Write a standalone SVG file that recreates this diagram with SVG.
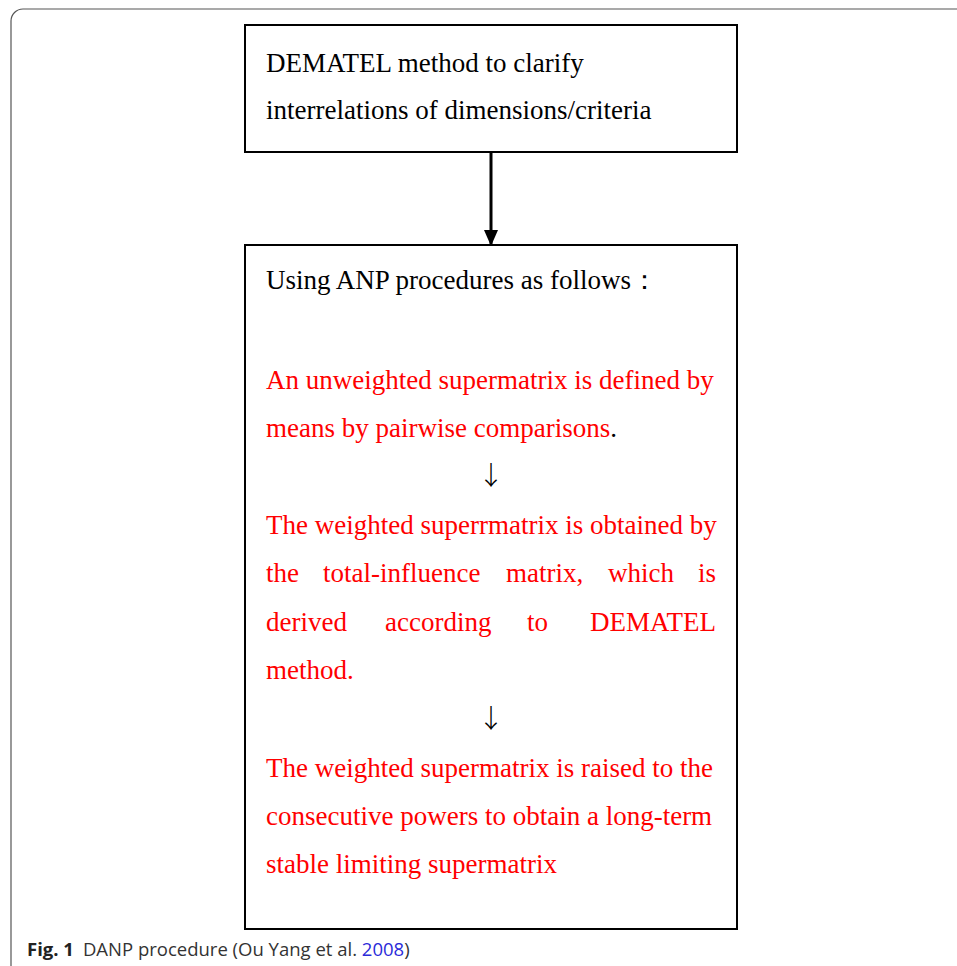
<svg xmlns="http://www.w3.org/2000/svg" width="957" height="966" viewBox="0 0 957 966">
<style>
.box{fill:#fff;stroke:#000;stroke-width:2}
.t{font-family:"Liberation Serif","Times New Roman",serif;font-size:27px;fill:#000}
.r{fill:#ff0000}
.ar{font-family:"Noto Sans CJK JP","DejaVu Sans",sans-serif;font-size:26px;font-weight:300;fill:#000}
.cap{font-family:"Open Sans","Noto Sans",sans-serif;font-size:18.5px;fill:#333}
</style>
<defs>
<marker id="ah" markerWidth="16" markerHeight="14" refX="15" refY="7" orient="auto" markerUnits="userSpaceOnUse">
<path d="M0,0 L16,7 L0,14 Z" fill="#000"/>
</marker>
</defs>
<rect x="11" y="9" width="990" height="1000" rx="12" ry="12" fill="#fff" stroke="#555" stroke-width="1.2"/>
<g id="node-dematel">
<rect class="box" x="245" y="25" width="492" height="127"/>
<text class="t" x="266" y="72">DEMATEL method to clarify</text>
<text class="t" x="266" y="119">interrelations of dimensions/criteria</text>
</g>
<g id="node-anp">
<rect class="box" x="245" y="245" width="492" height="684"/>
<text class="t" x="266" y="289">Using ANP procedures as follows：</text>
<text class="t r" x="266" y="389">An unweighted supermatrix is defined by</text>
<text class="t" x="266" y="437"><tspan class="r">means by pairwise comparisons</tspan>.</text>
<text class="ar" x="491" y="485" text-anchor="middle">↓</text>
<text class="t r" x="266" y="534">The weighted superrmatrix is obtained by</text>
<text class="t r" y="582"><tspan x="266">the</tspan><tspan x="323">total-influence</tspan><tspan x="506">matrix,</tspan><tspan x="608">which</tspan><tspan x="716" text-anchor="end">is</tspan></text>
<text class="t r" y="631"><tspan x="266">derived</tspan><tspan x="385">according</tspan><tspan x="527">to</tspan><tspan x="716" text-anchor="end">DEMATEL</tspan></text>
<text class="t r" x="266" y="679">method.</text>
<text class="ar" x="491" y="728" text-anchor="middle">↓</text>
<text class="t r" x="266" y="777">The weighted supermatrix is raised to the</text>
<text class="t r" x="266" y="825">consecutive powers to obtain a long-term</text>
<text class="t r" x="266" y="873">stable limiting supermatrix</text>
</g>
<g id="connectors">
<line x1="491" y1="152" x2="491" y2="245" stroke="#000" stroke-width="3" marker-end="url(#ah)"/>
</g>
<g id="caption">
<text class="cap" x="27" y="956"><tspan font-weight="bold" fill="#222">Fig. 1</tspan><tspan dx="9">DANP procedure (Ou Yang et al. </tspan><tspan fill="#2b2bd9">2008</tspan>)</text>
</g>
</svg>
